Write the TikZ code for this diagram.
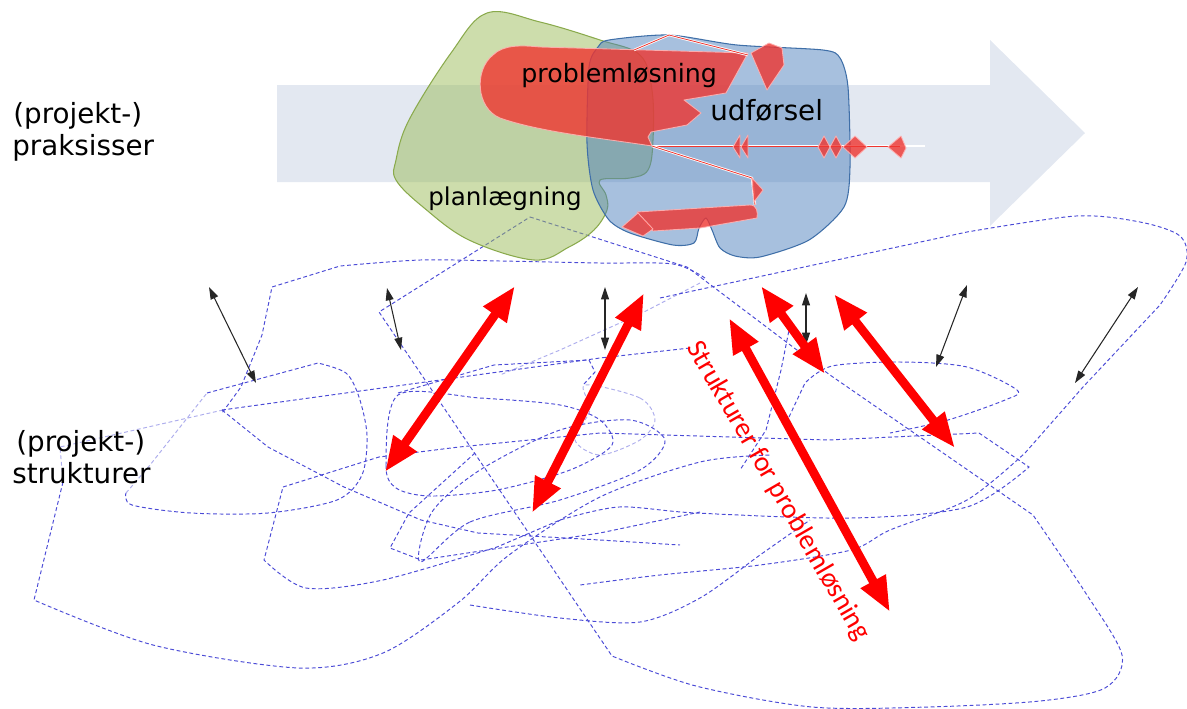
\documentclass[tikz,border=0pt]{standalone}
\usepackage{fontspec}
\setmainfont{DejaVu Sans}
\newfontfamily\redfont{Carlito}
\usetikzlibrary{arrows.meta}
\definecolor{bandc}{HTML}{E3E8F1}
\definecolor{greenf}{HTML}{9BBB59}
\definecolor{greend}{HTML}{8AAA4C}
\definecolor{bluef}{HTML}{4F81BD}
\definecolor{blued}{HTML}{3F6FA8}
\definecolor{redf}{HTML}{EF3530}
\definecolor{dashc}{HTML}{4B4BD6}
\begin{document}
\begin{tikzpicture}[x=0.02cm,y=-0.02cm,
  dashline/.style={draw=dashc, line width=0.55pt, dash pattern=on 2.2pt off 1.5pt},
  fadeline/.style={dashline, draw opacity=0.45},
  redshape/.style={fill=redf, fill opacity=0.8, draw=white!70!red, draw opacity=0.9, line width=0.5pt, line join=round},
  thinred/.style={draw=white, line width=1.4pt},
  thinredc/.style={draw=redf, line width=0.45pt},
  redarrow/.style={draw=red, line width=5pt, {Triangle[length=20pt,width=15pt]}-{Triangle[length=20pt,width=15pt]}},
  blackarrow/.style={draw=black!85, line width=0.6pt, {Triangle[length=7pt,width=4.5pt]}-{Triangle[length=7pt,width=4.5pt]}},
  lbl/.style={inner sep=0pt, anchor=base west}]
\useasboundingbox (0,0) rectangle (1187,708);

% background process arrow
\fill[bandc] (277,85) -- (990,85) -- (990,40) -- (1085,133) -- (990,226) -- (990,182) -- (277,182) -- cycle;

% dashed structure scribbles
\draw[dashline] (530,217) -- (687,267) -- (830,375) -- (1033,515) -- plot[smooth] coordinates {(1033,515) (1085,592) (1122,655) (1105,688) (1040,701) (928,707) (812,707) (696,686) (612,656)} -- (379,312) -- cycle;
\draw[dashline] plot[smooth] coordinates {(705,278) (673,264) (600,263) (500,261) (420,260) (340,266)} -- (272,287) -- (262,335) -- (241,387) -- (222,413);
\draw[dashline] (207,393) -- (318,363) -- plot[smooth] coordinates {(318,363) (346,373) (359,397) (367,435) (362,475) (337,500) (268,513) (191,513) (132,505) (126,493)};
\draw[fadeline] (126,493) -- (150,465) -- (207,393);
\draw[fadeline] (223,410) -- (60,447) -- (63,482);
\draw[dashline] (63,482) -- (34,600) -- plot[smooth] coordinates {(34,600) (153,645) (299,668) (383,653) (459,602) (509,555) (600,497) (700,462) (770,455)};
\draw[dashline] (222,410) -- (600,358) -- (690,348);
\draw[dashline] (398,393) -- (494,365) -- (589,360) -- (595,372) -- (584,384);
\draw[dashline] (222,410) -- (268,447) -- (344,487) -- (421,520) -- (478,533) -- (600,540) -- (680,545);
\draw[dashline] plot[smooth cycle] coordinates {(398,395) (386,465) (396,488) (430,496) (497,490) (570,470) (612,445) (600,420) (560,405) (480,398)};
\draw[dashline] (283,487) -- (379,457) -- (459,447) -- (600,433) -- (828,440) -- (979,433) -- (1029,467) -- plot[smooth] coordinates {(1029,467) (967,507) (851,518) (696,513) (619,507) (560,520)} -- (497,547) -- plot[smooth] coordinates {(497,547) (383,580) (306,588) (264,560)} -- cycle;
\draw[dashline] (789,417) -- (805,383) -- plot[smooth] coordinates {(805,383) (832,366) (900,362) (967,367) (1017,390) (1005,400) (948,420) (890,433)};
\draw[dashline] (660,298) -- (967,232) -- plot[smooth] coordinates {(967,232) (1076,216) (1140,222) (1180,236) (1186,262) (1160,305)} -- (1083,387) -- (1025,453) -- plot[smooth] coordinates {(1025,453) (967,500) (890,530) (851,550) (760,565) (660,575) (580,585)};
\draw[fadeline] (700,283) -- (642,313) -- (560,350) -- (500,375);
\draw[dashline] (790,325) -- (781,370) -- (766,430) -- (740,470);
\draw[dashline] plot[smooth cycle] coordinates {(420,562) (470,522) (560,500) (640,470) (665,440) (630,420) (560,430) (480,470) (432,512)};
\draw[dashline] (475,453) -- (409,513) -- (390,548) -- (421,560) -- (600,533) -- (700,512);
\draw[dashline] plot[smooth] coordinates {(470,605) (560,618) (640,622) (700,598) (760,555) (810,520)};
\draw[fadeline] plot[smooth cycle] coordinates {(585,385) (640,398) (655,420) (640,440) (600,455) (575,440) (590,410)};

% practice blobs
\filldraw[fill=greenf, fill opacity=0.5, draw=greend, line width=0.6pt] plot[smooth cycle, tension=0.6] coordinates {(487,13) (540,22) (600,40) (640,55) (652,90) (653,140) (648,170) (630,178) (600,180) (606,195) (607,210) (594,230) (569,247) (534,260) (469,240) (423,207) (396,180) (396,160) (409,120) (451,53)};
\filldraw[fill=bluef, fill opacity=0.5, draw=blued, line width=0.6pt] plot[smooth cycle, tension=0.45] coordinates {(598,47) (609,40) (669,35) (737,45) (823,50) (840,58) (848,87) (850,167) (844,207) (809,240) (760,257) (735,256) (720,248) (712,230) (706,218) (699,228) (694,243) (673,245) (630,233) (609,220) (593,190) (587,143) (589,67)};

% problem solving pieces
\path[redshape] (748,53) -- (726,93) -- (684,100) -- (701,113) -- (687,125) -- (651,132) -- (648,137) -- (652,146) .. controls (600,138) and (540,132) .. (500,118) .. controls (476,108) and (474,70) .. (493,55) .. controls (503,45) and (520,45) .. (540,47) -- cycle;
\path[redshape] (751,53) -- (769,43) -- (782,48) -- (784,65) -- (767,90) -- cycle;
\draw[thinred] (634,50) -- (669,35) -- (748,55);
\draw[thinredc] (634,50) -- (669,35) -- (748,55);
\draw[thinred] (652,146) -- (925,146);
\draw[thinredc] (652,146) -- (900,146);
\draw[thinred] (652,146) -- (752,178) -- (755,205);
\draw[thinredc] (652,146) -- (752,178) -- (755,205);
\path[redshape] (733,147) -- (740,135) -- (740,158) -- cycle;
\path[redshape] (748,135) -- (748,158) -- (741,147) -- cycle;
\path[redshape] (818,147) -- (824,136) -- (830,147) -- (824,158) -- cycle;
\path[redshape] (830,147) -- (836,136) -- (842,147) -- (836,158) -- cycle;
\path[redshape] (843,147) -- (855,136) -- (867,147) -- (855,158) -- cycle;
\path[redshape] (888,147) -- (901,136) -- (906,148) -- (901,158) -- cycle;
\path[redshape] (752,178) -- (763,190) -- (754,202) -- cycle;
\path[redshape] (637,212) -- (750,205) .. controls (757,205) and (758,212) .. (757,218) -- (700,228) -- (653,231) -- cycle;
\path[redshape] (622,227) -- (638,213) -- (653,229) -- (643,236) -- cycle;

% labels
\node[lbl, font=\fontsize{15.8}{19}\selectfont] (pp1) at (13,123) {(projekt-)};
\node[lbl, font=\fontsize{15.8}{19}\selectfont] (pp2) at (12,155) {praksisser};
\node[lbl, font=\fontsize{15.8}{19}\selectfont] (ps1) at (16,451) {(projekt-)};
\node[lbl, font=\fontsize{15.8}{19}\selectfont] (ps2) at (12,483) {strukturer};
\node[lbl, font=\fontsize{14.4}{17}\selectfont] (pl) at (521,82) {problemløsning};
\node[lbl, font=\fontsize{15.8}{19}\selectfont] (ud) at (710,120) {udførsel};
\node[lbl, font=\fontsize{14}{17}\selectfont] (plan) at (428,205) {planlægning};

% arrow end points
\coordinate (ba1a) at (209,287); \coordinate (ba1b) at (256,383);
\coordinate (ba2a) at (387,288); \coordinate (ba2b) at (401,350);
\coordinate (ba3a) at (605,287); \coordinate (ba3b) at (605,350);
\coordinate (ba4a) at (806,293); \coordinate (ba4b) at (806,345);
\coordinate (ba5a) at (967,285); \coordinate (ba5b) at (936,367);
\coordinate (ba6a) at (1138,287); \coordinate (ba6b) at (1075,383);
\coordinate (ra1a) at (515,286); \coordinate (ra1b) at (385,472);
\coordinate (ra2a) at (644,293); \coordinate (ra2b) at (532,513);
\coordinate (ra3a) at (729,318); \coordinate (ra3b) at (890,612);
\coordinate (ra4a) at (761,286); \coordinate (ra4b) at (825,374);
\coordinate (ra5a) at (834,294); \coordinate (ra5b) at (955,448);

\draw[blackarrow] (ba1a) -- (ba1b);
\draw[blackarrow] (ba2a) -- (ba2b);
\draw[blackarrow] (ba3a) -- (ba3b);
\draw[blackarrow] (ba4a) -- (ba4b);
\draw[blackarrow] (ba5a) -- (ba5b);
\draw[blackarrow] (ba6a) -- (ba6b);

\draw[redarrow] (ra1a) -- (ra1b);
\draw[redarrow] (ra2a) -- (ra2b);
\draw[redarrow] (ra3a) -- (ra3b);
\draw[redarrow] (ra4a) -- (ra4b);
\draw[redarrow] (ra5a) -- (ra5b);

\node[inner sep=0pt, rotate=-60, text=red, font=\redfont\fontsize{16}{19}\selectfont] (sfp) at (778,491) {Strukturer for problemløsning};
\end{tikzpicture}
\end{document}
